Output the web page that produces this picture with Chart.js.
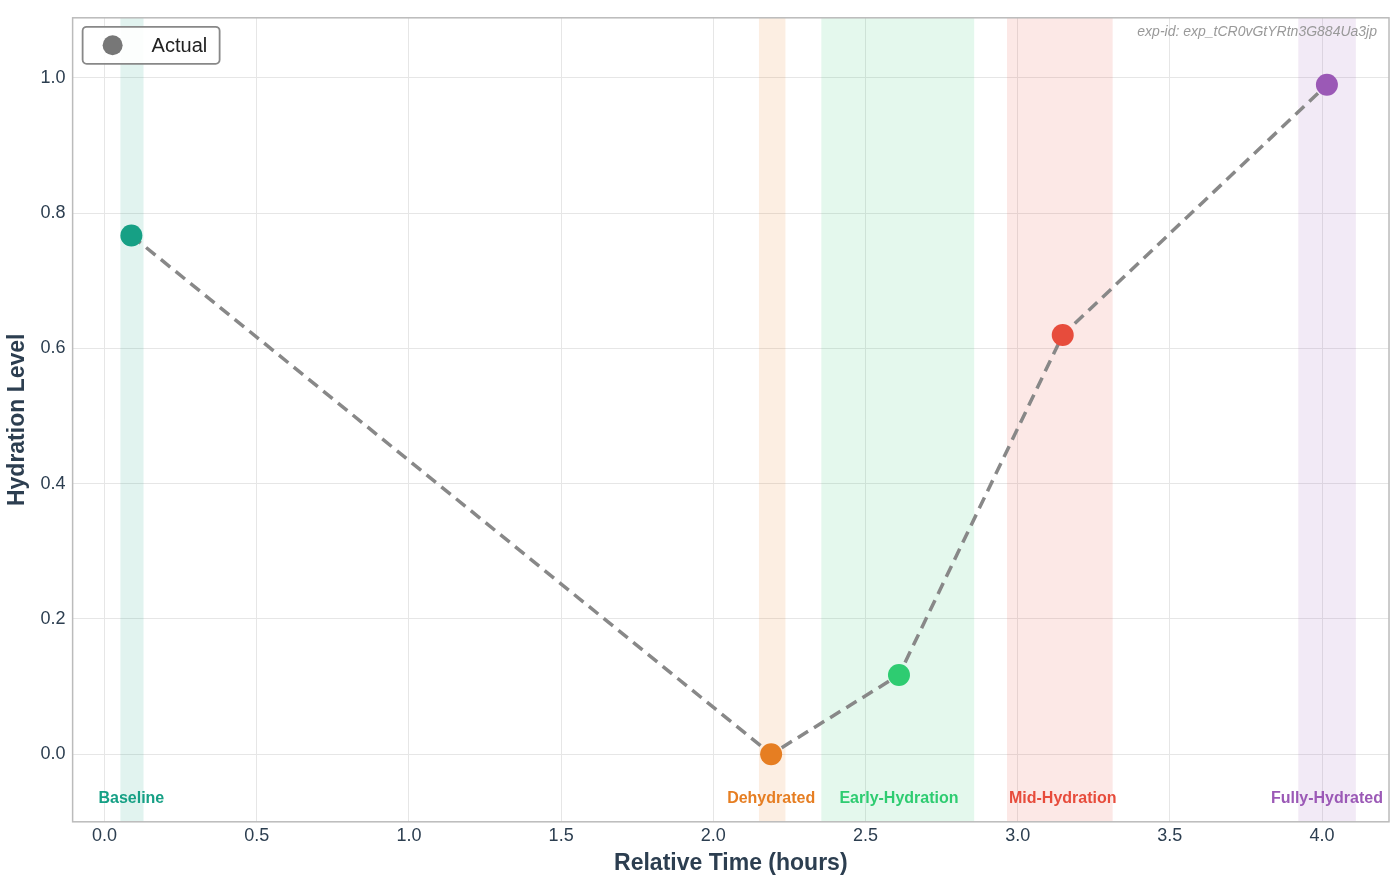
<!DOCTYPE html>
<html><head><meta charset="utf-8">
<script src="https://cdn.jsdelivr.net/npm/chart.js@4"></script>
<style>html,body{margin:0;padding:0;background:#fff}#w{width:1400px;height:879px}</style>
</head><body><div id="w"><canvas id="c"></canvas></div>
<script>
const phases = ["Baseline","Dehydrated","Early-Hydration","Mid-Hydration","Fully-Hydrated"];
const timesH = [0.088, 2.19, 2.61, 3.148, 4.016];
const hydration = [0.767, 0.0, 0.117, 0.62, 0.99];
const bandStart = [0.052, 2.15, 2.355, 2.965, 3.922];
const bandEnd = [0.128, 2.237, 2.857, 3.312, 4.111];
const colors = ["#16a085","#e67e22","#2ecc71","#e74c3c","#9b59b6"];
const xTicks = [0,0.5,1,1.5,2,2.5,3,3.5,4];
const yTicks = [0,0.2,0.4,0.6,0.8,1.0];
const expId = "exp-id: exp_tCR0vGtYRtn3G884Ua3jp";

function rgba(h,a){const n=parseInt(h.slice(1),16);return `rgba(${n>>16},${(n>>8)&255},${n&255},${a})`;}

const deco = {
  id:'deco',
  beforeDatasetsDraw(ch){
    const {ctx,chartArea:a,scales:{x,y}}=ch;
    ctx.save();
    phases.forEach((p,i)=>{
      ctx.fillStyle=rgba(colors[i],0.13);
      const x0=x.getPixelForValue(bandStart[i]),x1=x.getPixelForValue(bandEnd[i]);
      ctx.fillRect(x0,a.top,x1-x0,a.bottom-a.top);
    });
    ctx.restore();
  },
  afterDraw(ch){
    const {ctx,chartArea:a,scales:{x,y}}=ch;
    ctx.save();
    ctx.font='bold 16px "Liberation Sans", Arial, sans-serif';
    ctx.textAlign='center';ctx.textBaseline='middle';
    phases.forEach((p,i)=>{ctx.fillStyle=colors[i];ctx.fillText(p,x.getPixelForValue(timesH[i]),y.getPixelForValue(-0.065));});
    ctx.font='italic 14px "Liberation Sans", Arial, sans-serif';
    ctx.fillStyle='#999';ctx.textAlign='right';
    ctx.fillText(expId,a.right-12,a.top+14);
    ctx.strokeStyle='#bbb';ctx.lineWidth=1.5;ctx.strokeRect(a.left,a.top,a.right-a.left,a.bottom-a.top);
    const lx=a.left+10,ly=a.top+9,lw=137,lh=37;
    ctx.fillStyle='rgba(255,255,255,0.9)';ctx.strokeStyle='#888';ctx.lineWidth=1.8;
    ctx.beginPath();ctx.roundRect(lx,ly,lw,lh,4);ctx.fill();ctx.stroke();
    ctx.fillStyle='#777';ctx.beginPath();ctx.arc(lx+30,ly+lh/2,10,0,Math.PI*2);ctx.fill();
    ctx.fillStyle='#222';ctx.font='20px "Liberation Sans", Arial, sans-serif';ctx.textAlign='left';
    ctx.fillText('Actual',lx+69,ly+lh/2+1);
    ctx.restore();
  }
};

new Chart(document.getElementById('c'),{
  type:'line',
  data:{datasets:[{label:'Actual',data:timesH.map((t,i)=>({x:t,y:hydration[i]})),
    borderColor:'#888',borderWidth:3.5,borderDash:[12,7],
    pointBackgroundColor:colors,pointBorderColor:colors,pointBorderWidth:0,pointRadius:11,pointHoverRadius:11}]},
  options:{responsive:true,maintainAspectRatio:false,animation:false,
    layout:{padding:{left:0,right:2,top:8,bottom:0}},
    plugins:{legend:{display:false},tooltip:{enabled:false}},
    scales:{
      x:{type:'linear',min:-0.105,max:4.22,
        afterBuildTicks(s){s.ticks=xTicks.map(v=>({value:v}));},
        ticks:{callback:v=>v.toFixed(1),color:'#2c3e50',font:{size:18,family:'"Liberation Sans", Arial'},padding:3},
        grid:{color:'#e6e6e6',drawTicks:false},border:{display:false},
        title:{display:true,text:'Relative Time (hours)',color:'#2c3e50',font:{size:23,weight:'bold',family:'"Liberation Sans", Arial'},padding:{top:0,bottom:2}}},
      y:{min:-0.1,max:1.089,
        afterBuildTicks(s){s.ticks=yTicks.map(v=>({value:v}));},
        ticks:{callback:v=>v.toFixed(1),color:'#2c3e50',font:{size:18,family:'"Liberation Sans", Arial'},padding:7},
        grid:{color:'#e6e6e6',drawTicks:false},border:{display:false},
        title:{display:true,text:'Hydration Level',color:'#2c3e50',font:{size:23,weight:'bold',family:'"Liberation Sans", Arial'},padding:{bottom:2}}}
    }},
  plugins:[deco]
});
</script></body></html>
